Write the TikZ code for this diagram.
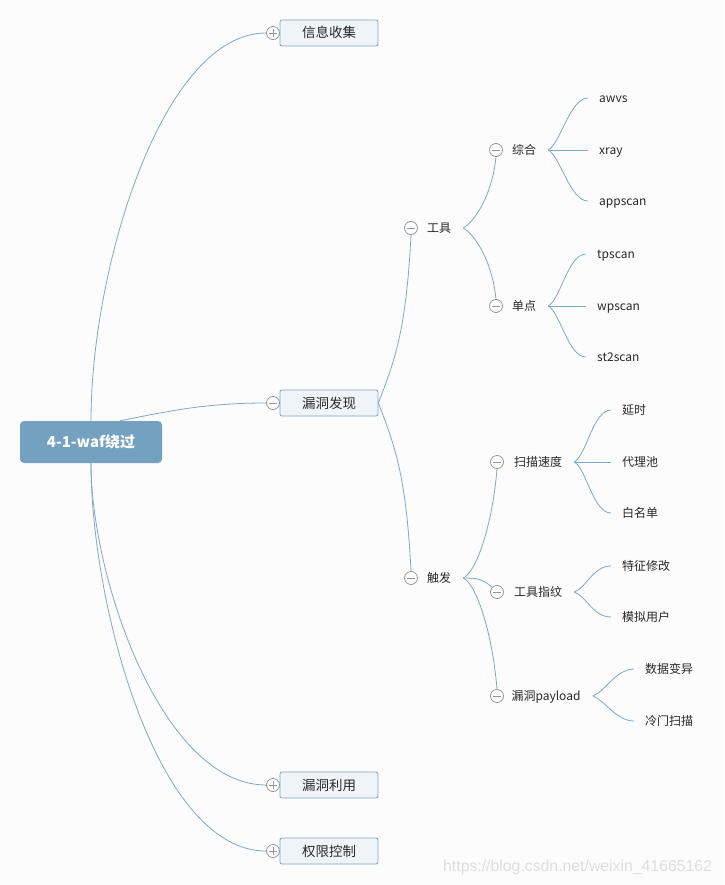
\documentclass[tikz,border=0pt]{standalone}
\usepackage{fontspec}
\setmainfont{Noto Sans CJK SC}
\newfontfamily\wmfont{Liberation Sans}

\definecolor{pagebg}{RGB}{252,252,252}
\definecolor{linkblue}{RGB}{127,168,201}
\definecolor{rootblue}{RGB}{116,161,192}
\definecolor{boxfill}{RGB}{239,244,248}
\definecolor{boxline}{RGB}{124,165,199}
\definecolor{foldgray}{RGB}{150,150,150}
\definecolor{textdark}{RGB}{40,40,40}
\definecolor{markgray}{RGB}{222,222,222}

\tikzset{
  rootbox/.style={fill=rootblue, rounded corners=4pt, minimum width=142pt, minimum height=42pt, text=white, text height=12pt, text depth=0.7pt, font=\fontsize{15}{18}\selectfont\bfseries},
  mainbox/.style={draw=boxline, fill=boxfill, line width=0.8pt, rounded corners=2pt, minimum width=98pt, minimum height=26pt, text=textdark, text height=11pt, text depth=1pt, font=\fontsize{13.5}{16}\selectfont},
  topic/.style={inner xsep=12pt, inner ysep=2pt, text=textdark, text height=10pt, text depth=1pt, font=\fontsize{12}{14}\selectfont},
  leaf/.style={anchor=west, inner xsep=11pt, inner ysep=2pt, text=textdark, text height=10pt, text depth=1pt, font=\fontsize{12}{14}\selectfont},
  link/.style={draw=linkblue, line width=0.8pt},
  fold/.style={circle, draw=foldgray, fill=white, line width=0.8pt, minimum size=13pt, inner sep=0pt},
  foldplus/.style={fold, path picture={\draw[foldgray, line width=0.8pt] ([xshift=-4pt]path picture bounding box.center) -- ([xshift=4pt]path picture bounding box.center) ([yshift=-4pt]path picture bounding box.center) -- ([yshift=4pt]path picture bounding box.center);}},
  foldminus/.style={fold, path picture={\draw[foldgray, line width=0.8pt] ([xshift=-4pt]path picture bounding box.center) -- ([xshift=4pt]path picture bounding box.center);}},
}

\begin{document}
\begin{tikzpicture}[x=1pt,y=1pt]
	\fill[pagebg] (0,0) rectangle (724,-885);
	\useasboundingbox (0,0) rectangle (724,-885);

	\node[rootbox] (root) at (91,-442) {4-1-waf绕过};

	\node[mainbox] (recon) at (329,-33) {信息收集};
	\node[mainbox] (discover) at (329,-403) {漏洞发现};
	\node[mainbox] (exploit) at (329,-785) {漏洞利用};
	\node[mainbox] (privilege) at (329,-851) {权限控制};
	\node[foldplus] (recon-c) at (273,-33) {};
	\node[foldminus] (discover-c) at (273,-403) {};
	\node[foldplus] (exploit-c) at (273,-785) {};
	\node[foldplus] (privilege-c) at (273,-851) {};

	\node[topic] (tools) at (439,-228) {工具};
	\node[foldminus] (tools-c) at (411,-228) {};
	\node[topic] (trigger) at (439,-578) {触发};
	\node[foldminus] (trigger-c) at (411,-578) {};

	\node[topic] (suite) at (524,-150) {综合};
	\node[foldminus] (suite-c) at (496,-150) {};
	\node[topic] (single) at (524,-306) {单点};
	\node[foldminus] (single-c) at (496,-306) {};
	\node[topic] (speed) at (538,-462) {扫描速度};
	\node[foldminus] (speed-c) at (497,-462) {};
	\node[topic] (finger) at (538,-592) {工具指纹};
	\node[foldminus] (finger-c) at (497,-592) {};
	\node[topic] (payload) at (546,-696) {漏洞payload};
	\node[foldminus] (payload-c) at (497,-696) {};

	\node[leaf] (awvs) at (588,-98) {awvs};
	\node[leaf] (xray) at (588,-150) {xray};
	\node[leaf] (appscan) at (588,-201) {appscan};
	\node[leaf] (tpscan) at (586,-254) {tpscan};
	\node[leaf] (wpscan) at (586,-306) {wpscan};
	\node[leaf] (st2scan) at (586,-357) {st2scan};
	\node[leaf] (delay) at (611,-410) {延时};
	\node[leaf] (proxy) at (611,-462) {代理池};
	\node[leaf] (whitelist) at (611,-513) {白名单};
	\node[leaf] (feature) at (611,-566) {特征修改};
	\node[leaf] (mimic) at (611,-617) {模拟用户};
	\node[leaf] (mutate) at (634,-669) {数据变异};
	\node[leaf] (rare) at (634,-721) {冷门扫描};

	\draw[link] (root.north) .. controls +(0,152) and +(-104,0) .. (recon-c.west);
	\draw[link] ([xshift=29pt]root.north) .. controls +(50,10) and +(-60,0) .. (discover-c.west);
	\draw[link] (root.south) .. controls +(0,-115) and +(-104,0) .. (exploit-c.west);
	\draw[link] (root.south) .. controls +(0,-140) and +(-110,0) .. (privilege-c.west);

	\draw[link] (discover.east) .. controls +(15,40) and +(-5,-100) .. (tools-c.south);
	\draw[link] (discover.east) .. controls +(15,-40) and +(-5,100) .. (trigger-c.north);

	\draw[link] (tools.east) .. controls +(10,5) and +(-4,-40) .. (suite-c.south);
	\draw[link] (tools.east) .. controls +(10,-5) and +(-4,40) .. (single-c.north);
	\draw[link] (trigger.east) .. controls +(12,5) and +(-5,-60) .. (speed-c.south);
	\draw[link] (trigger.east) .. controls +(15,0) and +(-10,8) .. (finger-c.north west);
	\draw[link] (trigger.east) .. controls +(12,-5) and +(-5,60) .. (payload-c.north);

	\draw[link] (suite.east) .. controls +(12,6) and +(-18,0) .. (awvs.west);
	\draw[link] (suite.east) -- (xray.west);
	\draw[link] (suite.east) .. controls +(12,-6) and +(-18,0) .. (appscan.west);
	\draw[link] (single.east) .. controls +(12,6) and +(-18,0) .. (tpscan.west);
	\draw[link] (single.east) -- (wpscan.west);
	\draw[link] (single.east) .. controls +(12,-6) and +(-18,0) .. (st2scan.west);
	\draw[link] (speed.east) .. controls +(12,6) and +(-18,0) .. (delay.west);
	\draw[link] (speed.east) -- (proxy.west);
	\draw[link] (speed.east) .. controls +(12,-6) and +(-18,0) .. (whitelist.west);
	\draw[link] (finger.east) .. controls +(12,4) and +(-18,0) .. (feature.west);
	\draw[link] (finger.east) .. controls +(12,-4) and +(-18,0) .. (mimic.west);
	\draw[link] (payload.east) .. controls +(12,4) and +(-18,0) .. (mutate.west);
	\draw[link] (payload.east) .. controls +(12,-4) and +(-18,0) .. (rare.west);

	\node[anchor=west, inner sep=0pt, text=markgray, font=\wmfont\fontsize{15.8}{18}\selectfont] (watermark) at (443,-867) {https://blog.csdn.net/weixin\_41665162};
\end{tikzpicture}
\end{document}
